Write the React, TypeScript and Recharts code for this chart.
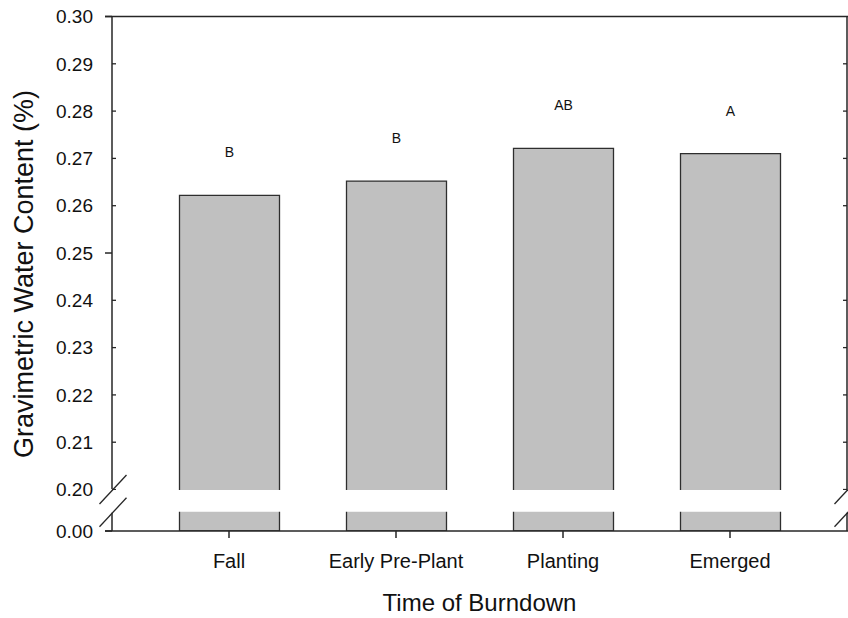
import { Bar, BarChart, LabelList, XAxis, YAxis } from "recharts";

// Gravimetric water content by time of burndown (y axis broken between 0.00 and 0.20)
const categories = ["Fall", "Early Pre-Plant", "Planting", "Emerged"];
const waterContent = [0.2622, 0.2652, 0.2721, 0.271];
const groupLetters = ["B", "B", "AB", "A"];
const yTickValues = [0.3, 0.29, 0.28, 0.27, 0.26, 0.25, 0.24, 0.23, 0.22, 0.21, 0.2];
const outwardTicks = [0.3, 0.25];

const W = 848;
const H = 618;
const PLOT = { left: 112, right: 847, top: 16.5, bottom: 531 };
const Y_MAX = 0.3;
const Y_ZERO = 0.19123; // where "0.00" sits, just below the break
const BREAK_HI = 0.1999;
const BREAK_LO = 0.1953;

const FONT = "'Liberation Sans', Arial, Helvetica, sans-serif";
const INK = "#111";
const LINE = "#262626";

const rows = categories.map((name, i) => ({
  name,
  value: waterContent[i],
  letter: groupLetters[i],
}));

// pixel position of a y value (same mapping the chart uses), for the decorations
const yPix = (v: number) =>
  PLOT.top + ((Y_MAX - v) / (Y_MAX - Y_ZERO)) * (PLOT.bottom - PLOT.top);

function YTick(props: any) {
  const { y, payload } = props;
  const v = payload.value as number;
  const isZero = v === Y_ZERO;
  const outward = isZero || outwardTicks.includes(v);
  return (
    <g>
      {outward ? (
        <line x1={PLOT.left - 7} x2={PLOT.left} y1={y} y2={y} stroke={LINE} strokeWidth={1.5} />
      ) : (
        <>
          <line x1={PLOT.left} x2={PLOT.left + 4} y1={y} y2={y} stroke={LINE} strokeWidth={1.3} />
          <line x1={PLOT.right - 4} x2={PLOT.right} y1={y} y2={y} stroke={LINE} strokeWidth={1.3} />
        </>
      )}
      <text
        x={PLOT.left - 19}
        y={y}
        dy="0.355em"
        textAnchor="end"
        fontSize={19}
        fontFamily={FONT}
        fill={INK}
      >
        {isZero ? "0.00" : v.toFixed(2)}
      </text>
    </g>
  );
}

function XTick(props: any) {
  const { x, y, payload } = props;
  return (
    <text x={x} y={y + 30} textAnchor="middle" fontSize={20} fontFamily={FONT} fill={INK}>
      {payload.value}
    </text>
  );
}

function LetterLabel(props: any) {
  const { x, y, width, value } = props;
  return (
    <text
      x={Number(x) + Number(width) / 2}
      y={Number(y) - 38}
      textAnchor="middle"
      fontSize={14}
      fontFamily={FONT}
      fill={INK}
    >
      {value}
    </text>
  );
}

function Slash({ cx, cy }: { cx: number; cy: number }) {
  return (
    <line x1={cx - 13.5} y1={cy + 14.5} x2={cx + 13.5} y2={cy - 14.5} stroke={LINE} strokeWidth={1.3} />
  );
}

export default function App() {
  const gapTop = yPix(BREAK_HI);
  const gapBottom = yPix(BREAK_LO);
  return (
    <div style={{ position: "absolute", left: 0, top: 0, width: W, height: H, background: "#fff" }}>
      <BarChart
        width={W}
        height={H}
        data={rows}
        margin={{ top: PLOT.top, right: W - PLOT.right, bottom: 0, left: 0 }}
      >
        <XAxis
          dataKey="name"
          height={H - PLOT.bottom}
          padding={{ left: 33.5, right: 33.5 }}
          axisLine={false}
          tickLine={{ stroke: LINE, strokeWidth: 1.5 }}
          tickSize={7}
          tickMargin={0}
          tick={<XTick />}
          interval={0}
        />
        <YAxis
          type="number"
          domain={[Y_ZERO, Y_MAX]}
          ticks={[Y_ZERO, ...yTickValues]}
          allowDataOverflow
          width={PLOT.left}
          axisLine={false}
          tickLine={false}
          tick={<YTick />}
          interval={0}
        />
        <Bar
          dataKey="value"
          fill="#c0c0c0"
          stroke="#2e2e2e"
          strokeWidth={1.3}
          barSize={100}
          isAnimationActive={false}
        >
          <LabelList dataKey="letter" content={<LetterLabel />} />
        </Bar>
      </BarChart>

      {/* frame, axis break and titles */}
      <svg
        width={W}
        height={H}
        style={{ position: "absolute", left: 0, top: 0, pointerEvents: "none" }}
      >
        <rect
          x={PLOT.left + 1}
          y={gapTop}
          width={PLOT.right - PLOT.left - 2}
          height={gapBottom - gapTop}
          fill="#fff"
        />
        <line x1={PLOT.left - 7} x2={PLOT.right + 1} y1={PLOT.top} y2={PLOT.top} stroke={LINE} strokeWidth={1.5} />
        <line x1={PLOT.left - 7} x2={PLOT.right + 1} y1={PLOT.bottom} y2={PLOT.bottom} stroke={LINE} strokeWidth={1.5} />
        {[PLOT.left, PLOT.right].map((ax) => (
          <g key={ax}>
            <line x1={ax} x2={ax} y1={PLOT.top} y2={gapTop - 1} stroke={LINE} strokeWidth={1.5} />
            <line x1={ax} x2={ax} y1={gapBottom + 1} y2={PLOT.bottom} stroke={LINE} strokeWidth={1.5} />
            <Slash cx={ax + 1} cy={gapTop - 0.5} />
            <Slash cx={ax + 1} cy={gapBottom + 0.5} />
          </g>
        ))}
        <text
          x={33}
          y={274}
          transform="rotate(-90, 33, 274)"
          textAnchor="middle"
          fontSize={27}
          fontFamily={FONT}
          fill={INK}
        >
          Gravimetric Water Content (%)
        </text>
        <text
          x={(PLOT.left + PLOT.right) / 2}
          y={611}
          textAnchor="middle"
          fontSize={24}
          fontFamily={FONT}
          fill={INK}
        >
          Time of Burndown
        </text>
      </svg>
    </div>
  );
}
